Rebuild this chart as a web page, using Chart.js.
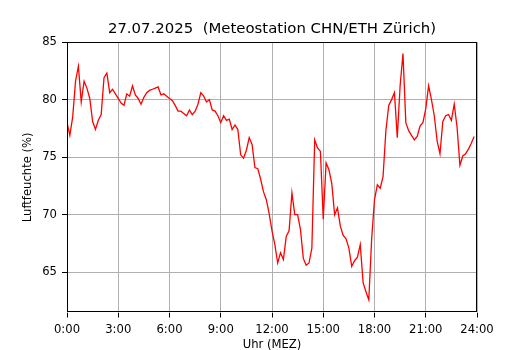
<!DOCTYPE html>
<html>
<head>
<meta charset="utf-8">
<title>Luftfeuchte 27.07.2025</title>
<script src="https://cdn.jsdelivr.net/npm/chart.js@4/dist/chart.umd.min.js"></script>
<style>
    html, body { margin: 0; padding: 0; background: #fff; }
    #chart-wrap { width: 530px; height: 350px; }
</style>
</head>
<body>
<div id="chart-wrap"><canvas id="humidityChart"></canvas></div>
<script>
// --- Data (10-min values, 0:00 - 23:50) ---
const chartTitle = '27.07.2025  (Meteostation CHN/ETH Zürich)';
const xAxisTitle = 'Uhr (MEZ)';
const yAxisTitle = 'Luftfeuchte (%)';

const humidity = [
    78.0, 76.9, 78.5, 81.6, 82.9, 79.8, 81.6, 81.0, 80.1, 78.1, 77.4, 78.2,
    78.7, 81.9, 82.3, 80.6, 80.9, 80.5, 80.1, 79.7, 79.5, 80.5, 80.3, 81.2,
    80.4, 80.1, 79.6, 80.2, 80.6, 80.8, 80.9, 81.0, 81.1, 80.4, 80.5, 80.3,
    80.1, 79.9, 79.5, 79.0, 79.0, 78.8, 78.6, 79.1, 78.7, 79.0, 79.6, 80.6,
    80.3, 79.8, 80.0, 79.1, 79.0, 78.6, 78.0, 78.6, 78.2, 78.3, 77.4, 77.8,
    77.4, 75.2, 74.9, 75.6, 76.7, 76.1, 74.1, 74.0, 73.1, 72.0, 71.3, 70.1,
    68.6, 67.4, 65.8, 66.7, 66.1, 68.1, 68.6, 71.9, 70.0, 70.0, 68.7, 66.2,
    65.6, 65.8, 67.1, 76.5, 75.8, 75.5, 69.6, 74.5, 73.9, 72.7, 70.0, 70.6,
    69.0, 68.2, 67.9, 67.1, 65.5, 66.0, 66.3, 67.4, 64.1, 63.3, 62.6, 67.9,
    71.3, 72.6, 72.3, 73.3, 77.3, 79.5, 80.0, 80.6, 76.7, 81.2, 84.0, 78.0,
    77.3, 76.9, 76.5, 76.8, 77.7, 78.0, 79.2, 81.2, 80.0, 78.6, 76.4, 75.3,
    78.1, 78.6, 78.7, 78.2, 79.6, 77.6, 74.3, 75.1, 75.3, 75.7, 76.2, 76.8
];
const minutes = humidity.map((_, i) => i * 10);

const xTicks = [0, 180, 360, 540, 720, 900, 1080, 1260, 1440];
const xTickLabels = ['0:00', '3:00', '6:00', '9:00', '12:00', '15:00', '18:00', '21:00', '24:00'];
const yTicks = [65, 70, 75, 80, 85];

document.addEventListener('DOMContentLoaded', () => {
    initializeChart();
});

// --- Frame around the plot area (like matplotlib spines) ---
const framePlugin = {
    id: 'frame',
    afterDatasetsDraw(chart) {
        const { ctx, chartArea: a } = chart;
        ctx.save();
        ctx.strokeStyle = '#000';
        ctx.lineWidth = 1;
        ctx.strokeRect(Math.round(a.left) + 0.5, Math.round(a.top) + 0.5,
            Math.round(a.right - a.left) - 1, Math.round(a.bottom - a.top) - 1);
        ctx.restore();
    }
};

function initializeChart() {
    const ctx = document.getElementById('humidityChart').getContext('2d');
    const font = { family: '"DejaVu Sans", sans-serif', size: 11.6 };

    new Chart(ctx, {
        type: 'line',
        data: {
            datasets: [{
                label: 'Luftfeuchte',
                data: minutes.map((m, i) => ({ x: m, y: humidity[i] })),
                borderColor: '#ff0000',
                borderWidth: 1.3,
                pointRadius: 0,
                tension: 0,
                fill: false
            }]
        },
        options: {
            responsive: true,
            maintainAspectRatio: false,
            animation: false,
            layout: { padding: { left: 0, right: 53, top: 0, bottom: 0 } },
            plugins: {
                legend: { display: false },
                tooltip: { enabled: false },
                title: {
                    display: true,
                    text: chartTitle,
                    fullSize: false,
                    color: '#000',
                    font: { family: font.family, size: 14.9, weight: 'normal' },
                    padding: { top: 20.6, bottom: 3.6 }
                }
            },
            scales: {
                x: {
                    type: 'linear',
                    min: 0,
                    max: 1440,
                    afterBuildTicks: (scale) => { scale.ticks = xTicks.map(v => ({ value: v })); },
                    afterFit: (scale) => { scale.height = 37.5; },
                    ticks: {
                        color: '#000',
                        font: font,
                        padding: 6,
                        maxRotation: 0,
                        autoSkip: false,
                        callback: (v) => xTickLabels[xTicks.indexOf(v)]
                    },
                    grid: { color: '#b0b0b0', lineWidth: 1, tickColor: '#000', tickLength: 5 },
                    border: { display: false },
                    title: {
                        display: true,
                        text: xAxisTitle,
                        color: '#000',
                        font: font,
                        padding: { top: 0, bottom: -2 }
                    }
                },
                y: {
                    min: 61.5,
                    max: 85,
                    afterBuildTicks: (scale) => { scale.ticks = yTicks.map(v => ({ value: v })); },
                    afterFit: (scale) => { scale.width = 67; },
                    ticks: { color: '#000', font: font, padding: 5 },
                    grid: { color: '#b0b0b0', lineWidth: 1, tickColor: '#000', tickLength: 5 },
                    border: { display: false },
                    title: {
                        display: true,
                        text: yAxisTitle,
                        color: '#000',
                        font: font,
                        padding: { top: 21.5, bottom: 0 }
                    }
                }
            }
        },
        plugins: [framePlugin]
    });
}
</script>
</body>
</html>
